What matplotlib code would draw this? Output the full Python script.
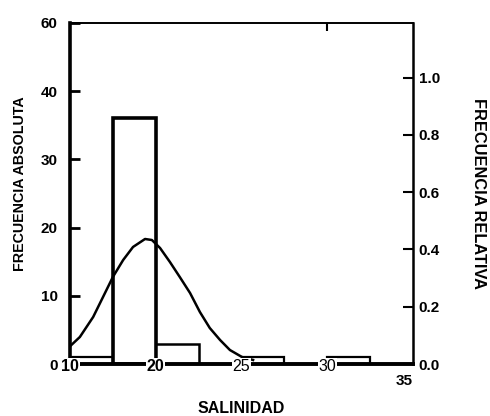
import matplotlib
matplotlib.use("Agg")
import matplotlib.pyplot as plt

# ---- data ----
bin_index = [0.5, 1.5, 2.5, 3.5, 4.5, 5.5, 6.5, 7.5]      # bin centres (class index)
counts = [1, 36, 3, 0, 1, 0, 1, 0]                         # frecuencia absoluta
total = 42
x_tick_pos = [0, 2, 4, 6]
x_tick_labels = ["10", "20", "25", "30"]
x_end_pos = 8
x_end_label = "35"
y_ticks = [0, 10, 20, 30, 40, 50]
y_tick_labels = ["0", "10", "20", "30", "40", "60"]
rel_ticks = [0.0, 0.2, 0.4, 0.6, 0.8, 1.0]
rel_tick_labels = ["0.0", "0.2", "0.4", "0.6", "0.8", "1.0"]
# fitted curve, values (x in class index, y in counts)
curve_x = [0.0, 0.23, 0.54, 0.77, 1.00, 1.24, 1.47, 1.75, 1.91, 2.10, 2.33,
           2.56, 2.80, 3.03, 3.26, 3.50, 3.73, 4.01, 4.27]
curve_y = [2.6, 3.96, 6.89, 9.82, 12.76, 15.25, 17.16, 18.33, 18.18, 17.01, 14.96,
           12.76, 10.41, 7.62, 5.28, 3.52, 2.05, 1.03, 0.59]

FONT = ["Liberation Sans", "DejaVu Sans"]

fig = plt.figure(figsize=(4.9, 4.16), dpi=100)
ax = fig.add_axes([70/490, 1-364/416, (413-70)/490, (364-23)/416])

lws = [1.6, 2.6, 1.8, 1.6, 1.6, 1.6, 1.6, 1.6]
ax.bar(bin_index, counts, width=1.0, facecolor="white", edgecolor="black",
       linewidth=lws, zorder=2)
ax.plot(curve_x, curve_y, color="black", lw=1.8, zorder=3)

ax.set_xlim(0, 8)
ax.set_ylim(0, 50)

for side, lw in [("left", 2.6), ("bottom", 2.8), ("top", 1.4), ("right", 1.8)]:
    ax.spines[side].set_linewidth(lw)

ax.set_yticks(y_ticks)
ax.set_yticklabels(y_tick_labels, fontfamily=FONT, fontweight="bold", fontsize=11)
ax.tick_params(axis="y", direction="in", length=7, width=2, pad=9)
ax.set_xticks([6])
ax.set_xticklabels([""])
ax.tick_params(axis="x", bottom=False, top=True, direction="in", length=6, width=1.5)

for p, lab in zip(x_tick_pos, x_tick_labels):
    ax.text(p, -0.006, lab, transform=ax.get_xaxis_transform(), ha="center", va="center",
            fontfamily=FONT, fontweight="bold" if lab in ("10", "20") else "normal",
            fontsize=11.5, zorder=5,
            bbox=dict(facecolor="white", edgecolor="none", pad=0.5))
ax.text(x_end_pos - 0.2, -0.05, x_end_label, transform=ax.get_xaxis_transform(),
        ha="center", va="center", fontfamily=FONT, fontweight="bold", fontsize=11)

ax.text(-0.146, 0.53, "FRECUENCIA ABSOLUTA", transform=ax.transAxes, rotation=90,
        ha="center", va="center", fontfamily=FONT, fontweight="bold", fontsize=10.3)
ax.text(0.5, -0.13, "SALINIDAD", transform=ax.transAxes, ha="center", va="center",
        fontfamily=FONT, fontweight="bold", fontsize=11.5)

ax2 = ax.twinx()
ax2.set_ylim(0, 50 / total)
ax2.set_yticks(rel_ticks)
ax2.set_yticklabels(rel_tick_labels, fontfamily=FONT, fontweight="bold", fontsize=11)
ax2.tick_params(axis="y", direction="in", length=7, width=1.5, pad=4)
for s in ax2.spines.values():
    s.set_visible(False)
ax2.text(1.19, 0.50, "FRECUENCIA RELATIVA", transform=ax.transAxes, rotation=-90,
         ha="center", va="center", fontfamily=FONT, fontweight="bold", fontsize=11.8)

fig.savefig("out.png", dpi=100, facecolor="white")
